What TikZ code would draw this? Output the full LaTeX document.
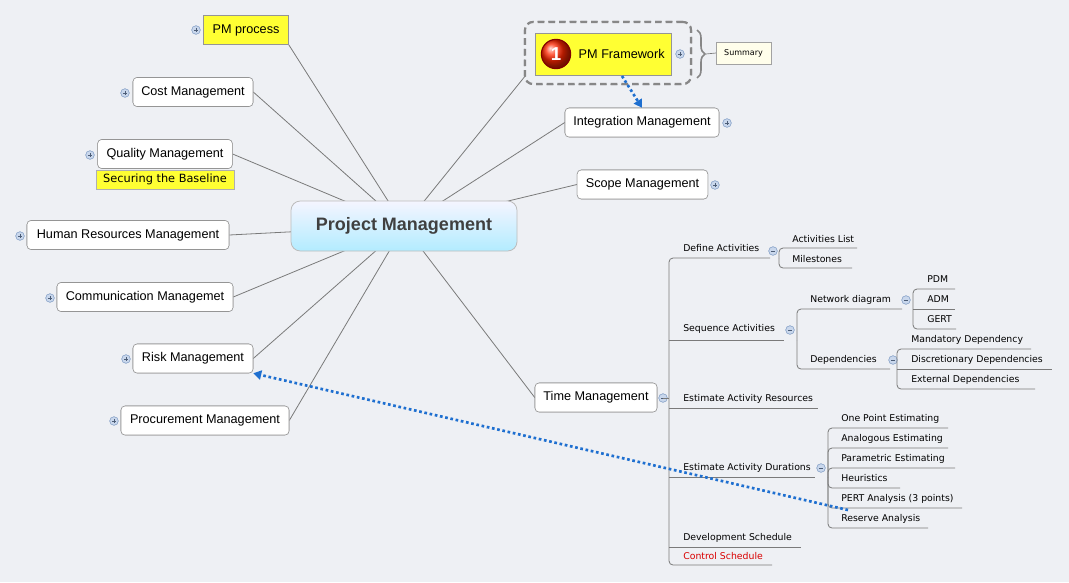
\documentclass[tikz,border=0pt]{standalone}
\usepackage{fontspec}
\setmainfont{Liberation Sans}
\newfontfamily\treefont{DejaVu Sans}
\usetikzlibrary{decorations.pathreplacing,arrows.meta,calc}
\definecolor{bg}{HTML}{EEF0F4}
\definecolor{lin}{HTML}{7A7A7A}
\definecolor{ico}{HTML}{C9D7EC}
\definecolor{icod}{HTML}{7F9BC4}
\definecolor{yel}{HTML}{FFFF33}
\definecolor{blu}{HTML}{1E6FD0}
\tikzset{
 topic/.style={draw=lin!80,fill=white,rounded corners=3pt,font=\fontsize{9.5}{11}\selectfont,inner sep=0pt,minimum height=21.75pt},
 ylw/.style={topic,fill=yel,rounded corners=0pt},
 ttx/.style={font=\treefont\fontsize{7}{8}\selectfont,anchor=base west,inner sep=0pt},
 tl/.style={draw=lin,line width=0.6pt,rounded corners=3pt},
 conn/.style={draw=lin,line width=0.6pt},
 dotarr/.style={draw=blu,line width=2pt,dotted,-{Triangle[length=6pt,width=7pt,fill=blu]}},
}
\newcommand{\plusic}[1]{\node[circle,draw=icod,fill=ico,inner sep=0pt,minimum size=6.5pt,line width=0.4pt] at #1 {}; \draw[icod!60!black,line width=0.5pt] ($#1+(-2.2,0)$)--($#1+(2.2,0)$) ($#1+(0,-2.2)$)--($#1+(0,2.2)$);}
\newcommand{\minusic}[1]{\node[circle,draw=icod,fill=ico,inner sep=0pt,minimum size=6.5pt,line width=0.4pt] at #1 {}; \draw[icod!60!black,line width=0.5pt] ($#1+(-2.2,0)$)--($#1+(2.2,0)$);}
\begin{document}
\begin{tikzpicture}[x=0.75pt,y=-0.75pt]
\fill[bg] (0,0) rectangle (1069,582);
\useasboundingbox (0,0) rectangle (1069,582);
\coordinate (c) at (404,226);
% nodes (placement)
\node[ylw,minimum width=63.75pt] (pmp) at (246,30) {PM process};
\node[topic,minimum width=90pt] (cost) at (193,92) {Cost Management};
\node[topic,minimum width=101pt] (qual) at (165,154) {Quality Management};
\node[topic,minimum width=151.5pt] (hr) at (128,235) {Human Resources Management};
\node[topic,minimum width=132pt] (com) at (145,297) {Communication Managemet};
\node[topic,minimum width=90pt] (risk) at (193,358.5) {Risk Management};
\node[topic,minimum width=126pt] (proc) at (205,420.5) {Procurement Management};
\node[topic,minimum width=115.5pt] (int) at (642,122.5) {Integration Management};
\node[topic,minimum width=98pt] (scope) at (642.5,184.5) {Scope Management};
\node[topic,minimum width=91.5pt] (time) at (596,397.5) {Time Management};
\node[draw=lin!90,line width=1.6pt,dash pattern=on 5pt off 3pt,rounded corners=6pt,minimum width=124.5pt,minimum height=46.5pt] (grp) at (608,53) {};
% connectors
\foreach \n/\a in {pmp/south east,cost/east,qual/east,hr/east,com/east,risk/east,proc/east}{
 \draw[conn] (c) -- (\n.\a);}
\draw[conn] (c) -- ($(grp.south west)+(2,-10)$);
\draw[conn] (c) -- (int.west);
\draw[conn] (c) -- (scope.west);
\draw[conn] (c) -- (time.west);
\node[draw=lin!50,line width=0.6pt,rounded corners=7pt,minimum width=169.5pt,minimum height=37.5pt,inner sep=0pt,
 top color=white!50!blue!8,bottom color=blue!25!cyan!30,font=\bfseries\fontsize{13.5}{15}\selectfont,text=black!75] (pm) at (c) {Project Management};
% redraw topics over the lines
\node[ylw,minimum width=63.75pt] at (246,30) {PM process};
\node[topic,minimum width=90pt] at (193,92) {Cost Management};
\node[topic,minimum width=101pt] at (165,154) {Quality Management};
\node[draw=lin!60,fill=yel,inner sep=0pt,minimum width=103.5pt,minimum height=14pt,font=\treefont\fontsize{8.5}{10}\selectfont] (sb) at (165,179.5) {Securing the Baseline};
\node[topic,minimum width=151.5pt] at (128,235) {Human Resources Management};
\node[topic,minimum width=132pt] at (145,297) {Communication Managemet};
\node[topic,minimum width=90pt] at (193,358.5) {Risk Management};
\node[topic,minimum width=126pt] at (205,420.5) {Procurement Management};
\node[topic,minimum width=115.5pt] at (642,122.5) {Integration Management};
\node[topic,minimum width=98pt] at (642.5,184.5) {Scope Management};
\node[topic,minimum width=91.5pt] at (596,397.5) {Time Management};
\node[draw=lin!90,line width=1.6pt,dash pattern=on 5pt off 3pt,rounded corners=6pt,minimum width=124.5pt,minimum height=46.5pt,fill=bg] at (608,53) {};
\node[ylw,minimum width=102pt,minimum height=31.5pt] (fw) at (603,54) {\hspace{28pt}PM Framework};
\node[circle,draw=red!50!black,line width=0.8pt,ball color=red!70!orange,minimum size=22pt,inner sep=0pt,text=white,font=\bfseries\fontsize{14}{14}\selectfont] (one) at (556,54) {1};
% icons
\plusic{(196,30)} \plusic{(125,93)} \plusic{(90,155)} \plusic{(20,236)} \plusic{(50,298)}
\plusic{(126,359)} \plusic{(114,421)} \plusic{(680,54)} \plusic{(727,123)} \plusic{(715,185)}
\minusic{(663,398)}
% summary
\draw[lin!90,line width=1.2pt,decorate,decoration={brace,amplitude=6pt}] (697,30) -- (697,78);
\node[draw=lin!70,fill=yellow!8,minimum width=41pt,minimum height=16.5pt,inner sep=0pt,font=\treefont\fontsize{6}{7}\selectfont] (sum) at (743.5,53) {Summary};
\draw[lin,line width=0.5pt] (706,54) -- (sum.west);
% tree
\draw[tl] (663,398) -- (669,398);
\draw[tl] (770,258) -- (669,258) -- (669,565) -- (772,565);
\foreach \y/\e in {340/784,408/818,477/815,547/801}{\draw[tl] (669,\y) -- (\e,\y);}
\node[ttx] (da) at (683,251) {Define Activities};
\node[ttx] (sa) at (683,331) {Sequence Activities};
\node[ttx] (ear) at (683,401) {Estimate Activity Resources};
\node[ttx] (ead) at (683,470) {Estimate Activity Durations};
\node[ttx] (ds) at (683,540) {Development Schedule};
\node[ttx,text=red!85!black] (cs) at (683,559) {Control Schedule};
\minusic{(773,251)} \minusic{(790,330)} \minusic{(821,468)}
\draw[tl] (779,258) |- (857,248); \draw[tl] (779,258) |- (852,268);
\node[ttx] at (792,242) {Activities List};
\node[ttx] at (792,262) {Milestones};
\draw[tl] (797,340) |- (902,309); \draw[tl] (797,340) |- (890,369);
\node[ttx] at (810,302) {Network diagram};
\node[ttx] at (810,362) {Dependencies};
\minusic{(906,300)} \minusic{(893,360)}
\draw[tl] (913,309) |- (955,289); \draw[tl] (913,309) -- (955,309); \draw[tl] (913,309) |- (956,329);
\node[ttx] at (927,282) {PDM};
\node[ttx] at (927,302) {ADM};
\node[ttx] at (927,322) {GERT};
\draw[tl] (897,369) |- (1031,349); \draw[tl] (897,369) -- (1052,369); \draw[tl] (897,369) |- (1035,389);
\node[ttx] at (911,342) {Mandatory Dependency};
\node[ttx] at (911,362) {Discretionary Dependencies};
\node[ttx] at (911,382) {External Dependencies};
\draw[tl] (828,477) |- (948,428); \draw[tl] (828,477) |- (948,448); \draw[tl] (828,477) |- (955,468);
\draw[tl] (828,477) |- (900,488); \draw[tl] (828,477) |- (962,508); \draw[tl] (828,477) |- (928,528);
\node[ttx] at (841,421) {One Point Estimating};
\node[ttx] at (841,441) {Analogous Estimating};
\node[ttx] at (841,461) {Parametric Estimating};
\node[ttx] at (841,481) {Heuristics};
\node[ttx] (pert) at (841,501) {PERT Analysis (3 points)};
\node[ttx] (res) at (841,521) {Reserve Analysis};
\coordinate (ra) at (848,510);
\draw[dotarr] (622,76) -- (int.north);
\draw[dotarr] (ra) -- (risk.south east);
\end{tikzpicture}
\end{document}
